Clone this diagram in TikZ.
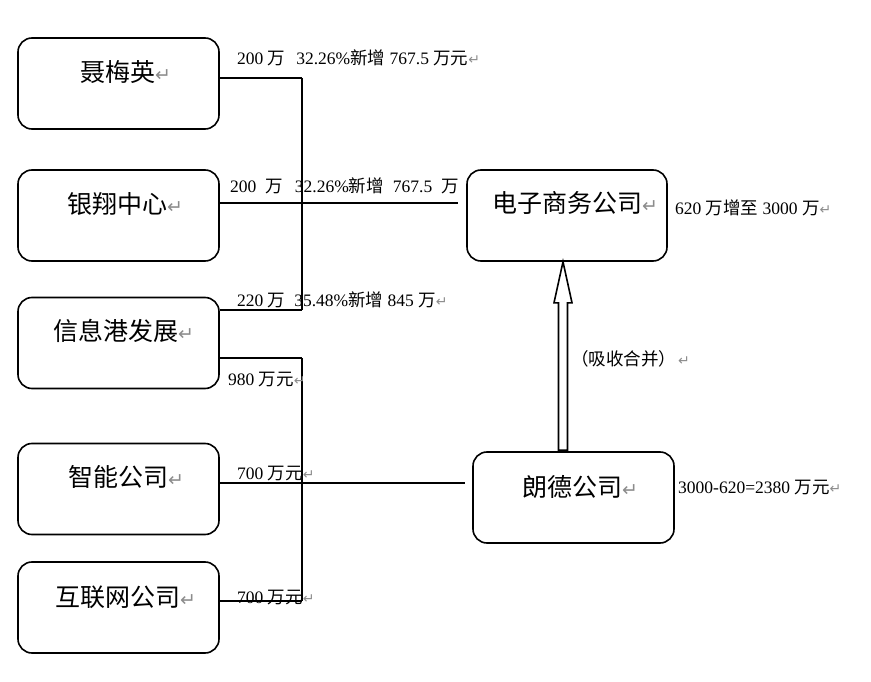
\documentclass[tikz,border=0pt]{standalone}
\usepackage{fontspec}
\setmainfont{Liberation Serif}
\newfontfamily\zhfont{Noto Sans CJK SC}
\newfontfamily\symfont{DejaVu Sans}
\usetikzlibrary{calc}
\newcommand\ret{{\color{gray!90}\symfont\fontsize{14pt}{14pt}\selectfont ↵}}
\newcommand\retbig{{\color{gray!90}\symfont\fontsize{19pt}{19pt}\selectfont ↵}}
\newcommand\zh[1]{{\zhfont #1}}
\begin{document}
\begin{tikzpicture}[x=1pt,y=-1pt,
  box/.style={draw,line width=1.6pt,rounded corners=14pt,minimum width=201pt,minimum height=91pt,inner sep=0pt},
  boxtext/.style={anchor=west,inner sep=0pt,font=\zhfont\fontsize{25pt}{25pt}\selectfont},
  lab/.style={anchor=west,inner sep=0pt,font=\fontsize{17.5pt}{17.5pt}\selectfont},
  conn/.style={line width=1.8pt}]
\useasboundingbox (0,0) rectangle (871,682);
% boxes
\node[box] (nie) at (118.5,83.5) {};
\node[box] (yin) at (118.5,215.5) {};
\node[box] (xin) at (118.5,343) {};
\node[box] (zhi) at (118.5,489) {};
\node[box] (hu)  at (118.5,607.5) {};
\node[box,minimum width=200pt] (dz) at (567,215.5) {};
\node[box] (ld) at (573.5,497.5) {};
% box texts
\node[boxtext] (tnie) at (80,72) {聂梅英\retbig};
\node[boxtext] (tyin) at (67,204) {银翔中心\retbig};
\node[boxtext] (txin) at (53,331) {信息港发展\retbig};
\node[boxtext] (tzhi) at (68,477) {智能公司\retbig};
\node[boxtext] (thu)  at (55,597) {互联网公司\retbig};
\node[boxtext] (tdz)  at (492,203) {电子商务公司\retbig};
\node[boxtext] (tld)  at (522,487) {朗德公司\retbig};
% connectors
\coordinate (ja) at (302,78);
\coordinate (jb) at (302,310);
\coordinate (jc) at (302,358);
\coordinate (jd) at (302,601);
\coordinate (e2) at (458,203);
\coordinate (e5) at (465,483);
\draw[conn] (ja) -- (jb);
\draw[conn] (nie.east |- ja) -- (ja);
\draw[conn] (yin.east |- e2) -- (e2);
\draw[conn] (xin.east |- jb) -- (jb);
\draw[conn] (jc) -- (jd);
\draw[conn] (xin.east |- jc) -- (jc);
\draw[conn] (zhi.east |- e5) -- (e5);
\draw[conn] (hu.east |- jd) -- (jd);
% hollow arrow
\coordinate (atip) at (dz.south -| 563,0);
\coordinate (abase) at (ld.north -| 563,0);
\draw[line width=1.6pt,fill=white,line join=miter]
  ($(abase)+(-4.5,-1)$) -- ($(atip)+(-4.5,41)$) -- ($(atip)+(-9,41)$) -- (atip)
  -- ($(atip)+(9,41)$) -- ($(atip)+(4.5,41)$) -- ($(abase)+(4.5,-1)$) -- cycle;
% labels
\node[lab] (l1) at (237,58) {200 \zh{万}\hspace{11pt}32.26\%\zh{新增} 767.5 \zh{万元}\ret};
\node[lab] (l2) at (230,186) {200\hspace{9pt}\zh{万}\hspace{12pt}32.26\%\zh{新增}\hspace{9pt}767.5\hspace{9pt}\zh{万}};
\node[lab] (l3) at (237,300) {220 \zh{万}\hspace{9pt}35.48\%\zh{新增} 845 \zh{万}\ret};
\node[lab] (l4) at (228,380) {980 \zh{万元}\ret};
\node[lab] (l5) at (237,474) {700 \zh{万元}\ret};
\node[lab] (l6) at (237,598) {700 \zh{万元}\ret};
\node[lab] (l7) at (675,208) {620 \zh{万增至} 3000 \zh{万}\ret};
\node[lab] (l8) at (678,488) {3000-620=2380 \zh{万元}\ret};
\node[lab] (l9) at (571,359) {\zh{（吸收合并）}\hspace{2pt}\ret};
\end{tikzpicture}
\end{document}
